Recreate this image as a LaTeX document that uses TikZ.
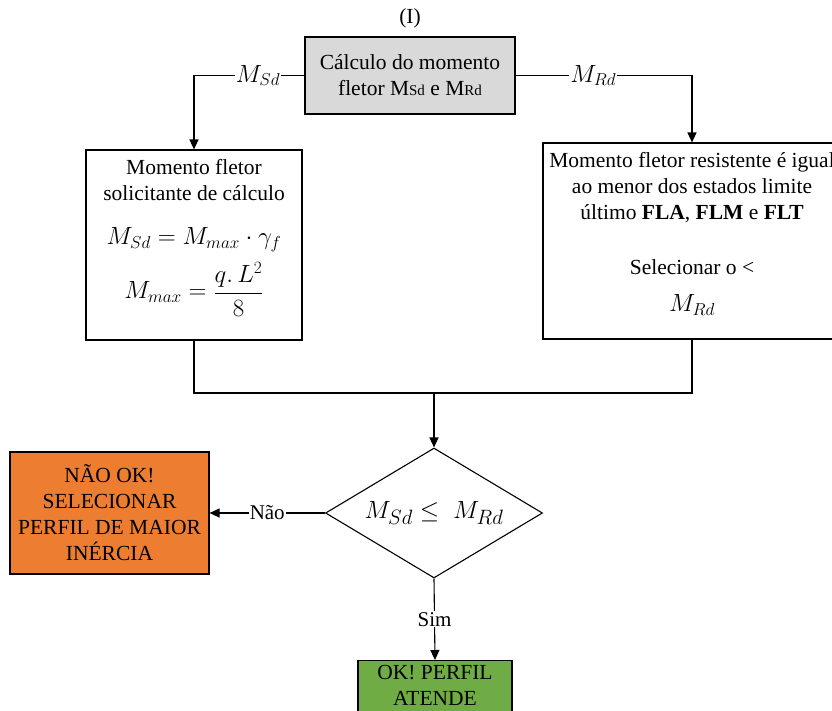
\documentclass[tikz,border=0pt]{standalone}
\usepackage{fontspec}
\setmainfont{Liberation Serif}
\usetikzlibrary{shapes.geometric,arrows.meta}
\definecolor{boxgray}{HTML}{D9D9D9}
\definecolor{boxorange}{HTML}{ED7D31}
\definecolor{boxgreen}{HTML}{6FAC46}
\begin{document}
\begin{tikzpicture}[x=1pt,y=-1pt,
  line width=1.1pt,
  font=\fontsize{21.5}{26}\selectfont,
  stepbox/.style={draw, rectangle, align=center, inner sep=2pt},
  txt/.style={align=center, inner sep=0pt},
  arr/.style={-{Triangle[length=10pt,width=9pt]}},
  lbl/.style={fill=white, inner sep=1pt, font=\fontsize{21}{24}\selectfont},
  mlbl/.style={fill=white, inner sep=1pt, font=\fontsize{23}{26}\selectfont}]
\useasboundingbox (0,0) rectangle (832,710);
\clip (0,0) rectangle (832,710);

\node (title) at (410,18) {(I)};
\node[stepbox, fill=boxgray, minimum width=210, minimum height=77] (top) at (410,75.5)
  {Cálculo do momento\\fletor M{\fontsize{15}{16}\selectfont Sd} e M{\fontsize{15}{16}\selectfont Rd}};

% left box
\node[draw, rectangle, minimum width=216, minimum height=190] (left) at (194,245) {};
\node[txt] (lt) at (194,180) {Momento fletor\\solicitante de cálculo};
\node[txt, font=\fontsize{24}{28}\selectfont] (lf1) at (194,240) {$M_{Sd}=M_{max}\cdot\gamma_f$};
\node[txt, font=\fontsize{24}{28}\selectfont] (lf2) at (194,289) {$M_{max}=\displaystyle\frac{q.\,L^2}{8}$};

% right box
\node[draw, rectangle, minimum width=298, minimum height=196] (right) at (692,241) {};
\node[txt] (rt) at (692,188) {Momento fletor resistente é igual\\ao menor dos estados limite\\último \textbf{FLA}, \textbf{FLM} e \textbf{FLT}};
\node[txt] (rs) at (692,267) {Selecionar o <};
\node[txt, font=\fontsize{24}{28}\selectfont] (rm) at (692,305) {$M_{Rd}$};

% decision
\node[draw, diamond, minimum width=217, minimum height=130, inner sep=0pt] (dia) at (434,513) {};
\node[txt, font=\fontsize{30}{32}\selectfont] (diat) at (434,513) {$M_{Sd}\leq\;M_{Rd}$};

\node[stepbox, fill=boxorange, minimum width=199, minimum height=122] (nok) at (109.5,513)
  {NÃO OK!\\SELECIONAR\\PERFIL DE MAIOR\\INÉRCIA};

\node[stepbox, fill=boxgreen, minimum width=154, anchor=north, inner xsep=2pt, inner ysep=5pt] (ok) at (435,660)
  {OK! PERFIL\\ATENDE\\\strut};

\coordinate (m) at (434,393);

\draw[arr] (top.west) -| node[mlbl, pos=0.21] {$M_{Sd}$} (left.north);
\draw[arr] (top.east) -| node[mlbl, pos=0.22] {$M_{Rd}$} (right.north);
\draw (left.south) |- (m);
\draw (right.south) |- (m);
\draw[arr] (m) -- (dia.north);
\draw[arr] (dia.west) -- node[lbl] {Não} (nok.east);
\draw[arr] (dia.south) -- node[lbl] {Sim} (ok.north);
\end{tikzpicture}
\end{document}
